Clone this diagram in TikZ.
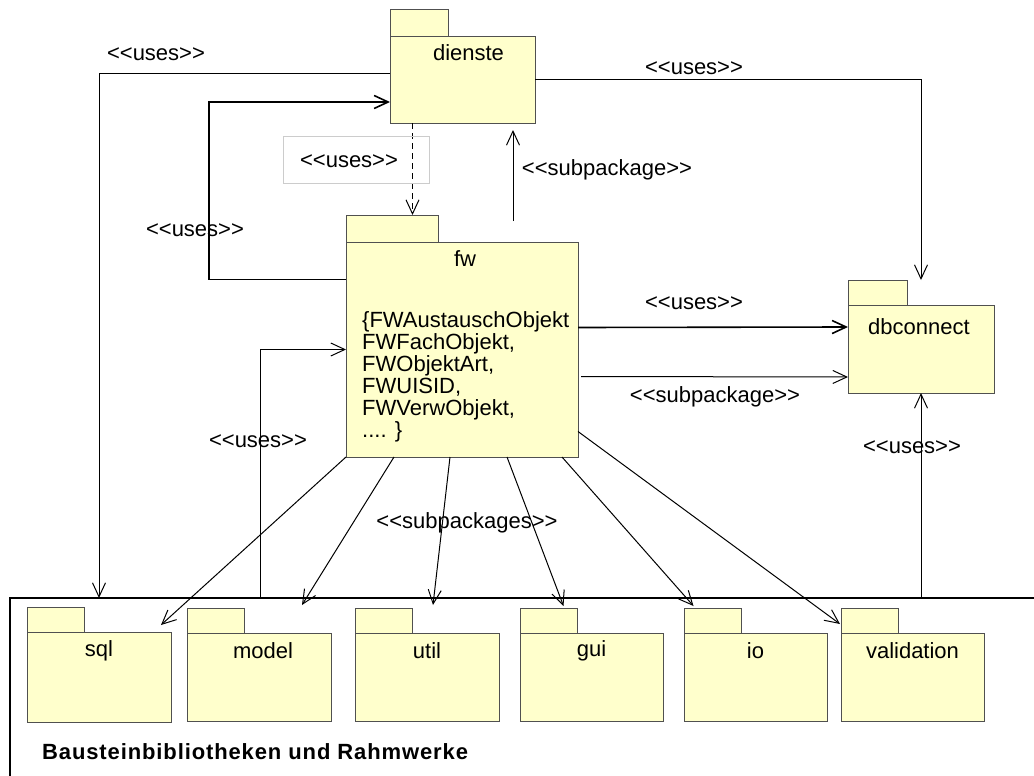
\documentclass[tikz,border=0pt]{standalone}
\usepackage{fontspec}
\setmainfont{Liberation Sans}
\newfontfamily\spacedfont[LetterSpace=4]{Liberation Sans}
\usepackage{tikz}
\usetikzlibrary{arrows.meta, positioning}
\definecolor{pkgfill}{RGB}{255,255,204}
\definecolor{pkgline}{RGB}{80,80,80}
\tikzset{>={Straight Barb[length=14pt,width=13pt]}}
\tikzset{
  pkg/.style={draw=pkgline, fill=pkgfill, line width=1pt, minimum width=144pt, minimum height=88pt, anchor=north west, inner sep=0pt, outer sep=0pt},
  pkgtab/.style={draw=pkgline, fill=pkgfill, line width=1pt, minimum width=57pt, minimum height=25pt, anchor=south west, inner sep=0pt, outer sep=0pt},
  pkgname/.style={inner sep=0pt},
  stereo/.style={inner sep=0pt},
  conn/.style={->, line width=1pt},
}

\begin{document}
\begin{tikzpicture}[x=1pt, y=-1pt, font=\fontsize{22}{22}\selectfont]
\useasboundingbox (0,0) rectangle (1034,776);

\node[draw, line width=2.5pt, minimum width=1100pt, minimum height=250pt, anchor=north west, inner sep=0pt, outer sep=0pt] (bib) at (10,598) {};
\node[anchor=west, inner sep=0pt, font=\spacedfont\bfseries\fontsize{22}{24}\selectfont] (bibname) at (42,752) {Bausteinbibliotheken und Rahmwerke};

\node[pkg, minimum width=145pt, minimum height=86pt] (dienste) at (390,37) {};
\node[pkgtab, minimum width=58pt, minimum height=27pt] (dienstetab) at (dienste.north west) {};
\node[pkgname] (diensteName) at ([xshift=6pt,yshift=-16pt]dienste.north) {dienste};

\node[pkg, minimum width=232pt, minimum height=215pt] (fw) at (346,242) {};
\node[pkgtab, minimum width=92pt, minimum height=27pt] (fwtab) at (fw.north west) {};
\node[pkgname] (fwName) at ([xshift=3pt,yshift=-17pt]fw.north) {fw};
\node[anchor=north west, align=left, inner sep=0pt] (fwlist) at (362,311) {\{FWAustauschObjekt\\FWFachObjekt,\\FWObjektArt,\\FWUISID,\\FWVerwObjekt,\\.... \}};

\node[pkg, minimum width=146pt] (dbconnect) at (848,305) {};
\node[pkgtab, minimum width=59pt] (dbconnecttab) at (dbconnect.north west) {};
\node[pkgname] (dbconnectName) at ([xshift=-2pt,yshift=-22pt]dbconnect.north) {dbconnect};

\node[pkg, minimum height=90pt] (sql) at (27,632) {};
\node[pkgtab] (sqltab) at (sql.north west) {};
\node[pkgname] (sqlName) at ([yshift=-19pt]sql.north) {sql};
\node[pkg] (model) at (187,633) {};
\node[pkgtab] (modeltab) at (model.north west) {};
\node[pkgname] (modelName) at ([xshift=4pt,yshift=-18pt]model.north) {model};
\node[pkg] (util) at (355,633) {};
\node[pkgtab] (utiltab) at (util.north west) {};
\node[pkgname] (utilName) at ([yshift=-18pt]util.north) {util};
\node[pkg, minimum width=143pt] (gui) at (520,633) {};
\node[pkgtab] (guitab) at (gui.north west) {};
\node[pkgname] (guiName) at ([yshift=-18pt]gui.north) {gui};
\node[pkg, minimum width=143pt] (io) at (684,633) {};
\node[pkgtab] (iotab) at (io.north west) {};
\node[pkgname] (ioName) at ([yshift=-18pt]io.north) {io};
\node[pkg, minimum width=143pt] (validation) at (841,633) {};
\node[pkgtab] (validationtab) at (validation.north west) {};
\node[pkgname] (validationName) at ([yshift=-18pt]validation.north) {validation};

\draw[conn] ([yshift=6pt]dienste.west) -| ([xshift=89pt]bib.north west);
\draw[conn] (dienste.east) -| (dbconnect.north |- dbconnecttab.north);
\draw[->, line width=1.6pt] ([yshift=70pt]fw.west) -- ++(-137,0) |- ([yshift=-22pt]dienste.west);
\draw[conn, dash pattern=on 6pt off 4pt] ([xshift=-50pt]dienste.south) -- ([xshift=-50pt]dienste.south |- fwtab.north);
\draw[conn] ([xshift=51pt,yshift=21pt]fw.north) -- ([xshift=51pt,yshift=-7pt]fw.north |- dienste.south);
\draw[->, line width=1.6pt] ([yshift=22pt]fw.east) -- ([yshift=22pt]dbconnect.west);
\draw[conn] ([xshift=3pt,yshift=-27pt]fw.east) -- ([yshift=-28pt]dbconnect.west);
\draw[conn] (bib.north -| dbconnect.south) -- (dbconnect.south);
\draw[conn] ([xshift=250pt]bib.north west) |- (fw.west);
\draw[conn] (fw.south west) -- ([xshift=-10pt,yshift=7pt]sql.north east);
\draw[conn] ([xshift=-68pt]fw.south) -- ([xshift=-29pt,yshift=28pt]model.north east);
\draw[conn] ([xshift=-12pt]fw.south) -- ([xshift=6pt,yshift=28pt]util.north);
\draw[conn] ([xshift=45pt]fw.south) -- ([xshift=-28pt,yshift=27pt]gui.north);
\draw[conn] ([xshift=100pt]fw.south) -- ([xshift=-62pt,yshift=27pt]io.north);
\draw[conn] ([yshift=-82pt]fw.east) -- ([xshift=-1pt,yshift=9pt]validation.north west);

\node[stereo] (usesSql) at (156,54) {<{}<uses>{}>};
\node[stereo] (usesDb) at (694,68) {<{}<uses>{}>};
\node[draw=black!20, line width=0.8pt, minimum width=146pt, minimum height=47pt, inner sep=0pt] (usesBox) at (356,160) {};
\node[stereo] (usesFw) at (349,161) {<{}<uses>{}>};
\node[stereo] (subDienste) at (607,170) {<{}<subpackage>{}>};
\node[stereo] (usesDienste) at (195,230) {<{}<uses>{}>};
\node[stereo] (usesDbFw) at (694,303) {<{}<uses>{}>};
\node[stereo] (subDb) at (715,397) {<{}<subpackage>{}>};
\node[stereo] (usesBibFw) at (258,441) {<{}<uses>{}>};
\node[stereo] (subPkgs) at (467,523) {<{}<subpackages>{}>};
\node[stereo] (usesBibDb) at (912,447) {<{}<uses>{}>};
\end{tikzpicture}
\end{document}
